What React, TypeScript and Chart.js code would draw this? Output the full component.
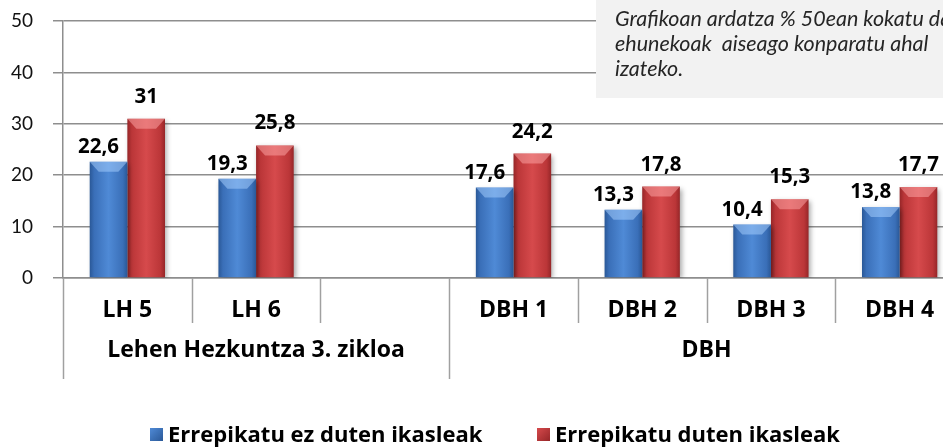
import React, { useEffect, useRef } from "react";
import { Chart, registerables } from "chart.js";

Chart.register(...registerables);

const categories = ["LH 5", "LH 6", "", "DBH 1", "DBH 2", "DBH 3", "DBH 4"];
const groups = [
  { label: "Lehen Hezkuntza 3. zikloa", from: 0, to: 2 },
  { label: "DBH", from: 3, to: 6 },
];
const seriesNames = ["Errepikatu ez duten ikasleak", "Errepikatu duten ikasleak"];
const notRepeated = [22.6, 19.3, null, 17.6, 13.3, 10.4, 13.8];
const repeated = [31, 25.8, null, 24.2, 17.8, 15.3, 17.7];
const yTicks = [0, 10, 20, 30, 40, 50];
const noteLines = [
  "Grafikoan ardatza % 50ean kokatu da",
  "ehunekoak  aiseago konparatu ahal",
  "izateko.",
];

const BLUE = ["#2a5897", "#4f8ad6", "#3a6fb8"];
const RED = ["#962628", "#d64a4c", "#bb3638"];
const GRID = "#8e8e8e";
const CAT_PCT = 0.585;

function fmt(v: number) {
  return String(v).replace(".", ",");
}

function barGradient(ctx: any, cols: string[], side: number) {
  const chart = ctx.chart;
  const xs = chart.scales && chart.scales.x;
  if (!xs || ctx.dataIndex === undefined || !chart.chartArea) return cols[1];
  const c = xs.getPixelForValue(ctx.dataIndex);
  const cw = (xs.right - xs.left) / categories.length;
  const half = (cw * CAT_PCT) / 2;
  const x0 = side === 0 ? c - half : c;
  const x1 = side === 0 ? c : c + half;
  const g = chart.ctx.createLinearGradient(x0, 0, x1, 0);
  g.addColorStop(0, cols[0]);
  g.addColorStop(0.12, cols[2]);
  g.addColorStop(0.5, cols[1]);
  g.addColorStop(0.88, cols[2]);
  g.addColorStop(1, cols[0]);
  return g;
}

const decorPlugin = {
  id: "decor",
  beforeDatasetsDraw(chart: any) {
    const ctx = chart.ctx;
    ctx.save();
    ctx.fillStyle = "#f2f2f2";
    ctx.fillRect(596, 0, chart.width - 596, 98);
    ctx.fillStyle = "#262626";
    ctx.font = "italic 21.5px Lato";
    ctx.textAlign = "left";
    ctx.textBaseline = "alphabetic";
    noteLines.forEach((t, i) => ctx.fillText(t, 615, 26 + i * 25));
    ctx.restore();
  },
  beforeDatasetDraw(chart: any) {
    const ctx = chart.ctx;
    ctx.save();
    ctx.shadowColor = "rgba(0,0,0,0.35)";
    ctx.shadowBlur = 5;
    ctx.shadowOffsetX = 2;
    ctx.shadowOffsetY = 2;
  },
  afterDatasetDraw(chart: any) {
    chart.ctx.restore();
  },
  afterDatasetsDraw(chart: any) {
    const ctx = chart.ctx;
    const xs = chart.scales.x;
    const area = chart.chartArea;
    const cw = (xs.right - xs.left) / categories.length;
    ctx.save();
    // bevel highlight on bar tops
    chart.data.datasets.forEach((ds: any, di: number) => {
      const meta = chart.getDatasetMeta(di);
      meta.data.forEach((el: any, i: number) => {
        if (ds.data[i] == null) return;
        const w = el.width;
        const l = el.x - w / 2;
        const t = el.y;
        ctx.fillStyle = di === 0 ? "rgba(170,210,255,0.5)" : "rgba(255,170,170,0.5)";
        ctx.beginPath();
        ctx.moveTo(l, t);
        ctx.lineTo(l + w, t);
        ctx.lineTo(l + w - 9, t + 10);
        ctx.lineTo(l + 9, t + 10);
        ctx.closePath();
        ctx.fill();
      });
    });
    // value labels
    ctx.fillStyle = "#000";
    ctx.font = "bold 20.5px 'Open Sans'";
    ctx.textAlign = "center";
    ctx.textBaseline = "alphabetic";
    chart.data.datasets.forEach((ds: any, di: number) => {
      const meta = chart.getDatasetMeta(di);
      meta.data.forEach((el: any, i: number) => {
        const v = ds.data[i];
        if (v == null) return;
        const dx = di === 0 ? -10 : 0;
        const dy = di === 0 ? 9 : 16;
        ctx.fillText(fmt(v), el.x + dx, el.y - dy);
      });
    });
    // category separators and labels
    ctx.strokeStyle = "#a0a0a0";
    ctx.lineWidth = 1.5;
    for (let i = 0; i <= categories.length; i++) {
      const x = Math.round(xs.left + i * cw) + 0.5;
      const isGroupEdge = groups.some((g) => g.from === i) || i === categories.length;
      ctx.beginPath();
      ctx.moveTo(x, area.bottom);
      ctx.lineTo(x, area.bottom + (isGroupEdge ? 101 : 45));
      ctx.stroke();
    }
    ctx.font = "bold 23px 'Open Sans'";
    categories.forEach((c, i) => {
      if (!c) return;
      ctx.fillText(c, xs.getPixelForValue(i), 317);
    });
    groups.forEach((g) => {
      const x0 = xs.left + g.from * cw;
      const x1 = xs.left + (g.to + 1) * cw;
      ctx.fillText(g.label, (x0 + x1) / 2, 357);
    });
    // legend
    const items = [
      { x: 150, tx: 168, cols: BLUE, text: seriesNames[0] },
      { x: 537, tx: 555, cols: RED, text: seriesNames[1] },
    ];
    ctx.textAlign = "left";
    ctx.font = "bold 22px 'Open Sans'";
    items.forEach((it) => {
      const g = ctx.createLinearGradient(it.x, 428, it.x + 13, 441);
      g.addColorStop(0, it.cols[1]);
      g.addColorStop(1, it.cols[0]);
      ctx.fillStyle = g;
      ctx.fillRect(it.x, 428, 13, 13);
      ctx.fillStyle = "#000";
      ctx.fillText(it.text, it.tx, 442);
    });
    ctx.restore();
  },
};

export default function App() {
  const ref = useRef<HTMLCanvasElement>(null);
  useEffect(() => {
    if (!ref.current) return;
    const chart = new Chart(ref.current, {
      type: "bar",
      data: {
        labels: categories,
        datasets: [
          {
            label: seriesNames[0],
            data: notRepeated as any,
            backgroundColor: (c: any) => barGradient(c, BLUE, 0),
            categoryPercentage: CAT_PCT,
            barPercentage: 1,
          },
          {
            label: seriesNames[1],
            data: repeated as any,
            backgroundColor: (c: any) => barGradient(c, RED, 1),
            categoryPercentage: CAT_PCT,
            barPercentage: 1,
          },
        ],
      },
      options: {
        responsive: false,
        animation: false,
        layout: { padding: { top: 21, right: 0, left: 0, bottom: 0 } },
        plugins: { legend: { display: false }, tooltip: { enabled: false } },
        scales: {
          x: {
            grid: { display: false },
            ticks: { display: false },
            border: { display: true, color: GRID, width: 1.5 },
            afterFit: (s: any) => {
              s.height = 169;
              s.paddingLeft = 0;
              s.paddingRight = 0;
            },
          },
          y: {
            min: 0,
            max: 50,
            afterBuildTicks: (s: any) => {
              s.ticks = yTicks.map((v) => ({ value: v }));
            },
            ticks: {
              padding: 20,
              color: "#111",
              font: { family: "Lato", size: 19 },
            },
            grid: { color: GRID, lineWidth: 1.5, tickLength: 10 },
            border: { display: true, color: GRID, width: 1.5 },
            afterFit: (s: any) => {
              s.width = 63;
              s.paddingTop = 0;
              s.paddingBottom = 0;
            },
          },
        },
      },
      plugins: [decorPlugin],
    });
    return () => chart.destroy();
  }, []);
  return (
    <div
      style={{
        position: "fixed",
        left: 0,
        top: 0,
        width: 943,
        height: 447,
        overflow: "hidden",
        background: "#fff",
      }}
    >
      <canvas ref={ref} width={964} height={447} style={{ display: "block" }} />
    </div>
  );
}
